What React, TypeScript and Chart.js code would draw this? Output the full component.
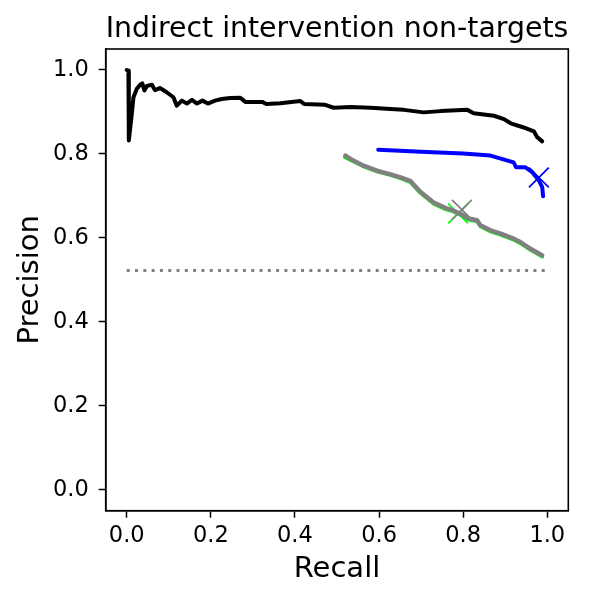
import React, { useEffect, useRef } from "react";
import { Chart, registerables } from "chart.js";

Chart.register(...registerables);

const TITLE = "Indirect intervention non-targets";
const X_LABEL = "Recall";
const Y_LABEL = "Precision";
const xTickValues = [0, 0.2, 0.4, 0.6, 0.8, 1.0];
const yTickValues = [0, 0.2, 0.4, 0.6, 0.8, 1.0];

const blackRecall = [0.000, 0.004, 0.005, 0.012, 0.016, 0.024, 0.032, 0.037, 0.042, 0.048, 0.060, 0.067, 0.079, 0.095, 0.111, 0.119, 0.131, 0.143, 0.155, 0.167, 0.180, 0.193, 0.210, 0.226, 0.246, 0.270, 0.282, 0.322, 0.332, 0.365, 0.413, 0.422, 0.472, 0.492, 0.532, 0.580, 0.627, 0.659, 0.706, 0.746, 0.810, 0.825, 0.873, 0.897, 0.913, 0.944, 0.968, 0.976, 0.988];
const blackPrecision = [1.000, 0.998, 0.832, 0.895, 0.935, 0.955, 0.965, 0.968, 0.951, 0.962, 0.965, 0.952, 0.957, 0.947, 0.935, 0.915, 0.927, 0.920, 0.929, 0.920, 0.927, 0.920, 0.927, 0.931, 0.933, 0.934, 0.924, 0.924, 0.919, 0.921, 0.926, 0.919, 0.917, 0.910, 0.912, 0.910, 0.907, 0.905, 0.899, 0.902, 0.905, 0.897, 0.891, 0.883, 0.873, 0.863, 0.854, 0.840, 0.830];

const blueRecall = [0.598, 0.700, 0.800, 0.865, 0.920, 0.926, 0.948, 0.964, 0.980, 0.988, 0.990];
const bluePrecision = [0.810, 0.805, 0.801, 0.796, 0.780, 0.768, 0.768, 0.757, 0.737, 0.721, 0.699];

const greenRecall = [0.518, 0.532, 0.563, 0.595, 0.625, 0.651, 0.675, 0.698, 0.714, 0.730, 0.758, 0.775, 0.794, 0.813, 0.833, 0.841, 0.865, 0.889, 0.920, 0.936, 0.960, 0.988];
const greenPrecision = [0.792, 0.785, 0.770, 0.758, 0.750, 0.742, 0.732, 0.707, 0.694, 0.681, 0.668, 0.663, 0.654, 0.643, 0.639, 0.627, 0.615, 0.607, 0.595, 0.587, 0.571, 0.555];

const grayRecall = [0.520, 0.532, 0.563, 0.595, 0.625, 0.651, 0.675, 0.698, 0.714, 0.730, 0.758, 0.775, 0.794, 0.813, 0.833, 0.841, 0.865, 0.889, 0.920, 0.936, 0.960, 0.988];
const grayPrecision = [0.796, 0.788, 0.772, 0.760, 0.752, 0.744, 0.735, 0.710, 0.697, 0.684, 0.671, 0.666, 0.657, 0.646, 0.642, 0.630, 0.618, 0.610, 0.598, 0.590, 0.574, 0.558];

const baselineRecall = [0, 1];
const baselinePrecision = [0.522, 0.522];

const blueMarker = { x: 0.980, y: 0.744 };
const greenMarker = { x: 0.788, y: 0.658 };
const grayMarker = { x: 0.797, y: 0.667 };

const FONT = "'DejaVu Sans', sans-serif";

function pts(xs: number[], ys: number[]) {
  return xs.map((x, i) => ({ x, y: ys[i] }));
}

const framePlugin = {
  id: "frame",
  afterDraw(chart: any) {
    const { ctx, chartArea } = chart;
    ctx.save();
    ctx.strokeStyle = "#000";
    ctx.lineWidth = 1.6;
    ctx.strokeRect(chartArea.left, chartArea.top, chartArea.right - chartArea.left, chartArea.bottom - chartArea.top);
    ctx.restore();
  },
};

export default function App() {
  const ref = useRef<HTMLCanvasElement | null>(null);
  useEffect(() => {
    if (!ref.current) return;
    // "order": higher values are drawn first (underneath)
    const line = (data: any, color: string, width: number, order: number, extra: any = {}) => ({
      data,
      order,
      showLine: true,
      borderColor: color,
      backgroundColor: color,
      borderWidth: width,
      pointRadius: 0,
      pointHoverRadius: 0,
      fill: false,
      tension: 0,
      borderJoinStyle: "round",
      borderCapStyle: "round",
      ...extra,
    });
    const marker = (p: any, color: string, order: number) => ({
      data: [p],
      order,
      showLine: false,
      pointStyle: "crossRot",
      pointRadius: 14,
      pointBorderWidth: 1.7,
      borderColor: color,
      backgroundColor: color,
      pointBorderColor: color,
    });
    const tickFont = { family: FONT, size: 22.5 };
    const labelFont = { family: FONT, size: 29, lineHeight: 1.2 };
    const chart = new Chart(ref.current, {
      type: "scatter",
      data: {
        datasets: [
          line(pts(blackRecall, blackPrecision), "#000000", 4, 8),
          line(pts(blueRecall, bluePrecision), "#0000ff", 4, 7),
          marker(blueMarker, "#0000ff", 6),
          line(pts(greenRecall, greenPrecision), "#00ff00", 3.5, 5),
          marker(greenMarker, "#00ff00", 4),
          line(pts(grayRecall, grayPrecision), "#808080", 4.5, 3),
          marker(grayMarker, "#808080", 2),
          line(pts(baselineRecall, baselinePrecision), "#808080", 3, 1, { borderDash: [3, 5.3], borderCapStyle: "butt" }),
        ] as any,
      },
      options: {
        animation: false,
        responsive: false,
        events: [],
        layout: { padding: { left: 0, right: 21.7, top: 0, bottom: 0 } },
        plugins: {
          legend: { display: false },
          tooltip: { enabled: false },
          title: { display: false },
        },
        scales: {
          x: {
            type: "linear",
            min: -0.05,
            max: 1.05,
            afterFit: (s: any) => { s.height = 90.3; },
            afterBuildTicks: (s: any) => { s.ticks = xTickValues.map((v) => ({ value: v })); },
            ticks: {
              color: "#000",
              font: tickFont,
              padding: 5,
              maxRotation: 0,
              autoSkip: false,
              callback: (v: any) => Number(v).toFixed(1),
            },
            grid: { drawOnChartArea: false, drawTicks: true, tickLength: 7, tickColor: "#000", tickWidth: 1.5 },
            border: { display: true, color: "#000", width: 1.6 },
            title: {
              display: true,
              text: X_LABEL,
              color: "#000",
              font: labelFont,
              padding: { top: 0, bottom: 14 },
            },
          },
          xTop: {
            type: "linear",
            position: "top",
            min: -0.05,
            max: 1.05,
            afterFit: (s: any) => { s.height = 49; },
            ticks: { display: false },
            grid: { display: false, drawTicks: false },
            border: { display: false },
            title: {
              display: true,
              text: TITLE,
              color: "#000",
              font: labelFont,
              padding: { top: 11.6, bottom: 0 },
            },
          },
          y: {
            type: "linear",
            min: -0.05,
            max: 1.05,
            afterFit: (s: any) => { s.width = 105.7; },
            afterBuildTicks: (s: any) => { s.ticks = yTickValues.map((v) => ({ value: v })); },
            ticks: {
              color: "#000",
              font: tickFont,
              padding: 10,
              autoSkip: false,
              callback: (v: any) => Number(v).toFixed(1),
            },
            grid: { drawOnChartArea: false, drawTicks: true, tickLength: 7, tickColor: "#000", tickWidth: 1.5 },
            border: { display: true, color: "#000", width: 1.6 },
            title: {
              display: true,
              text: Y_LABEL,
              color: "#000",
              font: labelFont,
              padding: { top: 13, bottom: 0 },
            },
          },
        },
      } as any,
      plugins: [framePlugin],
    });
    return () => chart.destroy();
  }, []);
  return (
    <div style={{ position: "absolute", left: 0, top: 0, width: 590, height: 601, background: "#fff" }}>
      <canvas ref={ref} width={590} height={601} style={{ display: "block" }} />
    </div>
  );
}
